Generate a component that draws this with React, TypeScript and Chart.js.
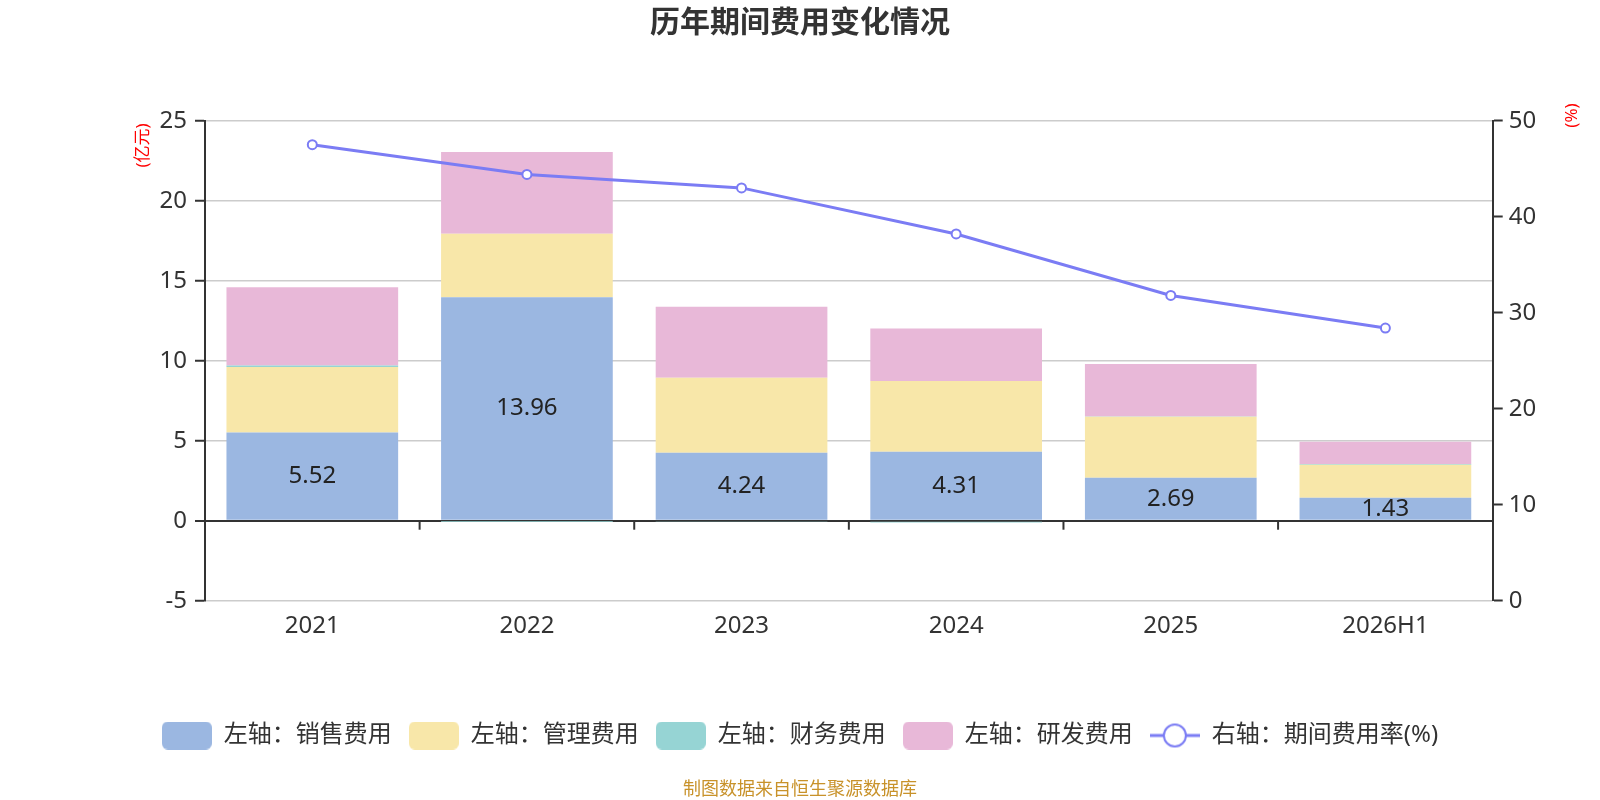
import { useEffect, useRef } from "react";
import { Chart, registerables } from "chart.js";

Chart.register(...registerables);

const FONT = "'Noto Sans', 'Noto Sans CJK SC', sans-serif";

// data
const years = ["2021", "2022", "2023", "2024", "2025", "2026H1"];
const salesCost = [5.52, 13.96, 4.24, 4.31, 2.69, 1.43];
const adminCost = [4.08, 3.98, 4.7, 4.42, 3.81, 2.07];
const financeCost = [0.1, -0.02, -0.08, -0.12, 0.02, 0.04];
const rdCost = [4.89, 5.1, 4.43, 3.29, 3.27, 1.4];
const expenseRate = [47.5, 44.4, 43.0, 38.2, 31.8, 28.4];

const leftTicks = [-5, 0, 5, 10, 15, 20, 25];
const rightTicks = [0, 10, 20, 30, 40, 50];

const BLUE = "#9bb7e1";
const YELLOW = "#f8e7a9";
const TEAL = "#96d4d4";
const PINK = "#e8b8d8";
const LINE = "#7b7cf4";

function boxIcon(color: string) {
  const c = document.createElement("canvas");
  c.width = 50;
  c.height = 28;
  const ctx = c.getContext("2d")!;
  ctx.fillStyle = color;
  ctx.beginPath();
  ctx.roundRect(0, 0, 50, 28, 6);
  ctx.fill();
  return c;
}

function lineIcon(color: string) {
  const c = document.createElement("canvas");
  c.width = 50;
  c.height = 28;
  const ctx = c.getContext("2d")!;
  ctx.strokeStyle = color;
  ctx.lineWidth = 3;
  ctx.beginPath();
  ctx.moveTo(0, 14);
  ctx.lineTo(50, 14);
  ctx.stroke();
  ctx.fillStyle = "#fff";
  ctx.lineWidth = 2;
  ctx.beginPath();
  ctx.arc(25, 14, 11, 0, Math.PI * 2);
  ctx.fill();
  ctx.stroke();
  return c;
}

const extrasPlugin = {
  id: "extras",
  afterDatasetsDraw(chart: any) {
    const { ctx, scales } = chart;
    const x = scales.x;
    const y = scales.y;
    const zero = y.getPixelForValue(0);
    ctx.save();
    // ticks on the zero line between categories
    ctx.strokeStyle = "#333";
    ctx.lineWidth = 2;
    for (let i = 1; i < years.length; i++) {
      const px = (x.getPixelForValue(i - 1) + x.getPixelForValue(i)) / 2;
      ctx.beginPath();
      ctx.moveTo(px, zero);
      ctx.lineTo(px, zero + 9);
      ctx.stroke();
    }
    // value labels inside the sales bars
    const meta = chart.getDatasetMeta(0);
    ctx.fillStyle = "#222";
    ctx.font = `24px ${FONT}`;
    ctx.textAlign = "center";
    ctx.textBaseline = "middle";
    meta.data.forEach((bar: any, i: number) => {
      ctx.fillText(salesCost[i].toFixed(2), bar.x, (bar.y + bar.base) / 2);
    });
    ctx.restore();
  },
  afterDraw(chart: any) {
    const { ctx } = chart;
    ctx.save();
    ctx.textAlign = "center";
    ctx.textBaseline = "middle";
    ctx.fillStyle = "#333";
    ctx.font = `bold 30px ${FONT}`;
    ctx.fillText("历年期间费用变化情况", 800, 23);
    ctx.fillStyle = "#c8922a";
    ctx.font = `18px ${FONT}`;
    ctx.fillText("制图数据来自恒生聚源数据库", 800, 790);
    ctx.fillStyle = "#ff0000";
    ctx.font = `17px ${FONT}`;
    ctx.translate(143.5, 145.5);
    ctx.rotate(-Math.PI / 2);
    ctx.fillText("(亿元)", 0, 0);
    ctx.restore();
    ctx.save();
    ctx.textAlign = "center";
    ctx.textBaseline = "middle";
    ctx.fillStyle = "#ff0000";
    ctx.font = `17px ${FONT}`;
    ctx.translate(1572, 115.5);
    ctx.rotate(-Math.PI / 2);
    ctx.fillText("(%)", 0, 0);
    ctx.restore();
  },
};

export default function App() {
  const canvasRef = useRef<HTMLCanvasElement | null>(null);
  const chartRef = useRef<Chart | null>(null);

  useEffect(() => {
    if (!canvasRef.current) return;
    if (chartRef.current) chartRef.current.destroy();
    Chart.defaults.font.family = FONT;

    const barSet = (label: string, data: number[], color: string) => ({
      type: "bar" as const,
      label,
      data,
      backgroundColor: color,
      yAxisID: "y",
      stack: "cost",
      barPercentage: 0.8,
      categoryPercentage: 1,
      order: 1,
    });

    const legendIcons = [
      { text: "左轴：销售费用", icon: boxIcon(BLUE) },
      { text: "左轴：管理费用", icon: boxIcon(YELLOW) },
      { text: "左轴：财务费用", icon: boxIcon(TEAL) },
      { text: "左轴：研发费用", icon: boxIcon(PINK) },
      { text: "右轴：期间费用率(%)", icon: lineIcon(LINE) },
    ];

    chartRef.current = new Chart(canvasRef.current, {
      type: "bar",
      data: {
        labels: years,
        datasets: [
          barSet("左轴：销售费用", salesCost, BLUE),
          barSet("左轴：管理费用", adminCost, YELLOW),
          barSet("左轴：财务费用", financeCost, TEAL),
          barSet("左轴：研发费用", rdCost, PINK),
          {
            type: "line",
            label: "右轴：期间费用率(%)",
            data: expenseRate,
            yAxisID: "y1",
            borderColor: LINE,
            borderWidth: 3,
            pointRadius: 4.5,
            pointBorderWidth: 2,
            pointBackgroundColor: "#fff",
            pointBorderColor: LINE,
            tension: 0,
            order: 0,
          } as any,
        ],
      },
      options: {
        animation: false,
        responsive: true,
        maintainAspectRatio: false,
        layout: { padding: { top: 120.7, left: 0, right: 0, bottom: 42.5 } },
        plugins: {
          title: { display: false },
          tooltip: { enabled: false },
          legend: {
            display: true,
            position: "bottom",
            labels: {
              usePointStyle: true,
              pointStyleWidth: 50,
              padding: 17,
              color: "#333",
              font: { size: 24, family: FONT },
              generateLabels: () =>
                legendIcons.map((l, i) => ({
                  text: l.text,
                  pointStyle: l.icon,
                  datasetIndex: i,
                  hidden: false,
                  fontColor: "#333",
                  lineWidth: 0,
                })),
            },
          },
        },
        scales: {
          x: {
            stacked: true,
            grid: { display: false },
            border: { display: false },
            ticks: { color: "#333", padding: 3.5, font: { size: 24 } },
            afterFit: (s: any) => {
              s.height = 105.8;
            },
          },
          y: {
            stacked: true,
            position: "left",
            min: -5,
            max: 25,
            afterBuildTicks: (s: any) => {
              s.ticks = leftTicks.map((v) => ({ value: v }));
            },
            grid: {
              color: (c: any) => (c.tick && c.tick.value === 0 ? "#333" : "#cccccc"),
              lineWidth: (c: any) => (c.tick && c.tick.value === 0 ? 2 : 1.5),
              tickColor: "#333",
              tickLength: 10,
              tickWidth: 2,
            },
            border: { display: true, color: "#333", width: 2 },
            ticks: { color: "#333", padding: 8, font: { size: 24 } },
            afterFit: (s: any) => {
              s.width = 205;
            },
          },
          y1: {
            position: "right",
            min: 0,
            max: 50,
            afterBuildTicks: (s: any) => {
              s.ticks = rightTicks.map((v) => ({ value: v }));
            },
            grid: {
              drawOnChartArea: false,
              tickColor: "#333",
              tickLength: 10,
              tickWidth: 2,
            },
            border: { display: true, color: "#333", width: 2 },
            ticks: { color: "#333", padding: 6, font: { size: 24 } },
            afterFit: (s: any) => {
              s.width = 107.3;
            },
          },
        },
      },
      plugins: [extrasPlugin],
    });

    return () => {
      if (chartRef.current) {
        chartRef.current.destroy();
        chartRef.current = null;
      }
    };
  }, []);

  return (
    <div
      style={{
        position: "fixed",
        left: 0,
        top: 0,
        width: 1600,
        height: 800,
        background: "#fff",
      }}
    >
      <canvas ref={canvasRef}></canvas>
    </div>
  );
}
